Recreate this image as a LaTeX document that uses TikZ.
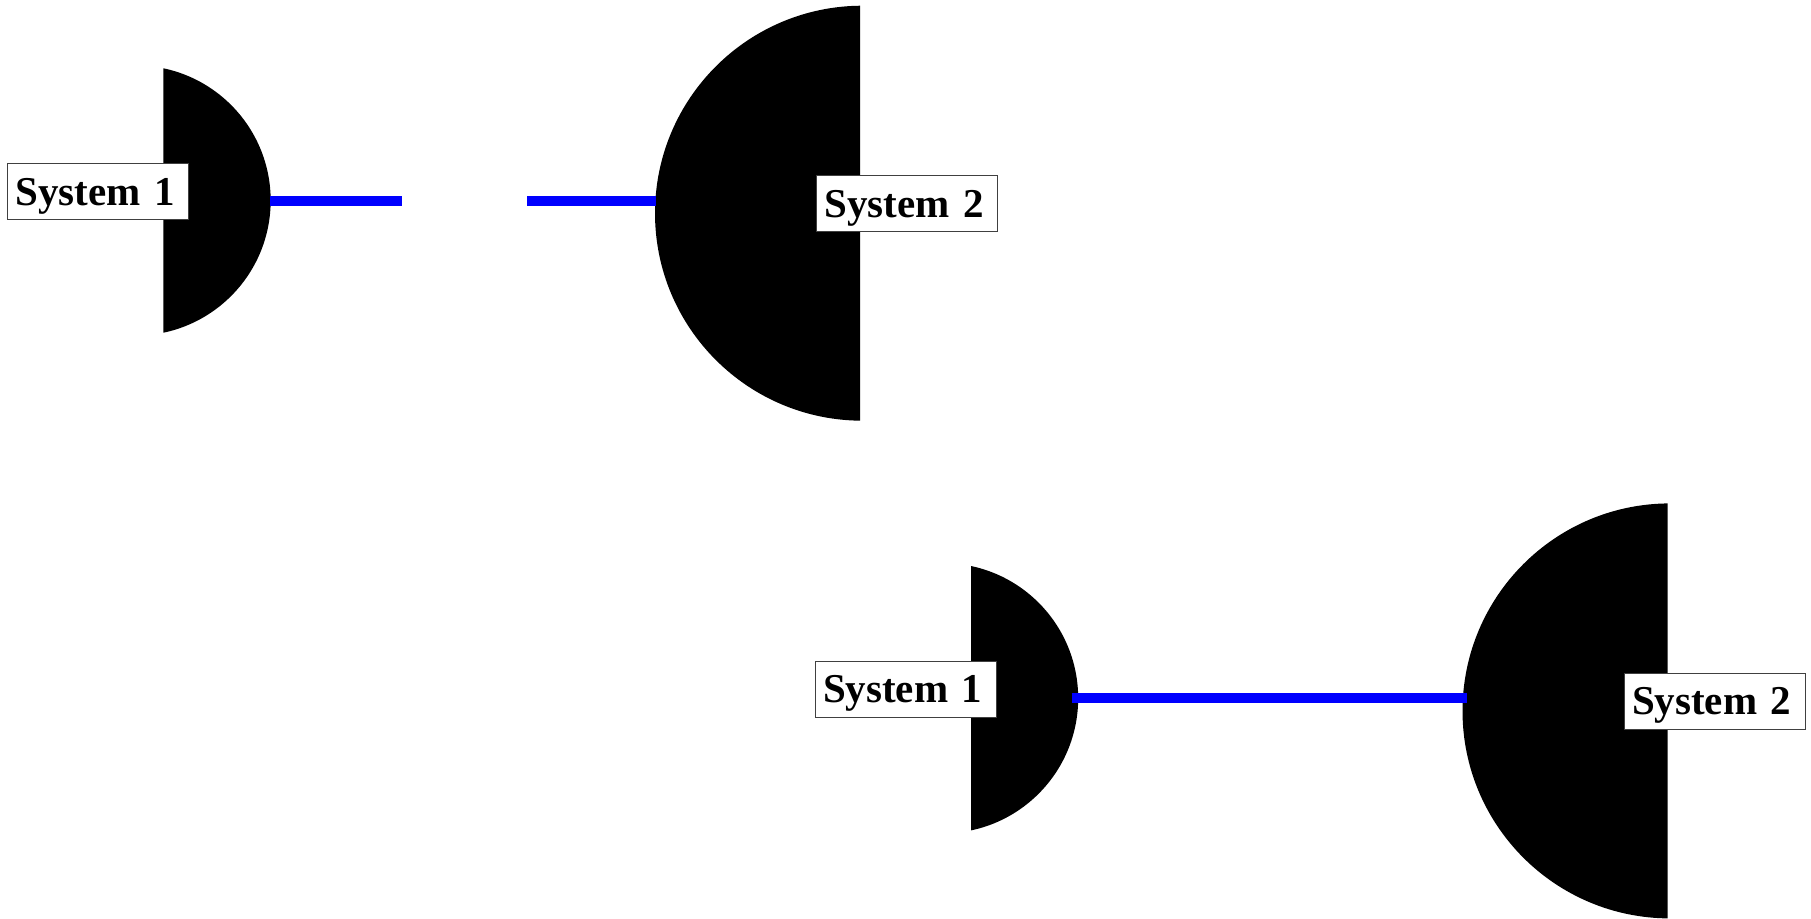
\documentclass[tikz,border=0pt]{standalone}
\usepackage{fontspec}
\setmainfont{Liberation Serif}
\begin{document}
\begin{tikzpicture}[x=1pt,y=-1pt,
  lbl/.style={draw=black!75, line width=1pt, fill=white, inner xsep=8pt, inner ysep=0pt,
    text width=165pt, align=left, text height=41.5pt, text depth=14.5pt,
    font=\fontsize{41}{41}\selectfont\bfseries, anchor=north west},
  wire/.style={draw=blue, line width=10pt}]
\useasboundingbox (0,0) rectangle (1811,918);
% top pair
\begin{scope}
  \clip (163.3,0) rectangle (320,400);
  \fill[black] (135.6,200.5) circle (135.07);
\end{scope}
\begin{scope}
  \clip (600,0) rectangle (860,450);
  \fill[black] (862.5,213.2) circle (207.5);
\end{scope}
% bottom pair
\begin{scope}
  \clip (971,450) rectangle (1120,900);
  \fill[black] (943.1,698.2) circle (135.07);
\end{scope}
\begin{scope}
  \clip (1400,450) rectangle (1667.5,930);
  \fill[black] (1670,710.9) circle (207.5);
\end{scope}
% connection points
\coordinate (a1) at (270,200.7);
\coordinate (a2) at (401.7,200.7);
\coordinate (b1) at (527.3,200.7);
\coordinate (b2) at (656,200.7);
\coordinate (c1) at (1071.7,698.3);
\coordinate (c2) at (1466.7,698.3);
\draw[wire] (a1) -- (a2);
\draw[wire] (b1) -- (b2);
\draw[wire] (c1) -- (c2);
% labels
\node[lbl] (s1a) at (7,163) {System 1};
\node[lbl] (s2a) at (816,175) {System 2};
\node[lbl] (s1b) at (814.5,660.7) {System 1};
\node[lbl] (s2b) at (1623.5,672.7) {System 2};
\end{tikzpicture}
\end{document}
